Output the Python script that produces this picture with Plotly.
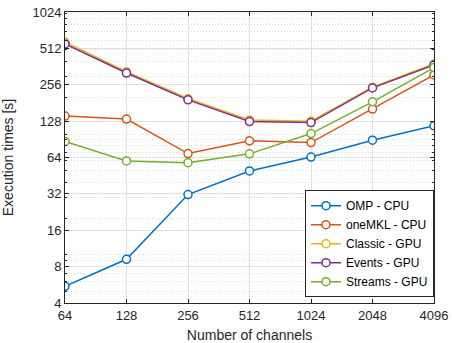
import math
import plotly.graph_objects as go

channels = [64, 128, 256, 512, 1024, 2048, 4096]
omp_cpu = [5.5, 9.2, 31.6, 49.5, 64.5, 89, 117]
onemkl_cpu = [141, 133, 69, 88, 85, 161, 309]
classic_gpu = [578, 328, 197, 131, 128, 244, 382]
events_gpu = [557, 320, 192, 127, 124.5, 241, 373]
streams_gpu = [87, 60, 58, 68.6, 101, 185, 355]

series_names = ["OMP - CPU", "oneMKL - CPU", "Classic - GPU", "Events - GPU", "Streams - GPU"]
series_values = [omp_cpu, onemkl_cpu, classic_gpu, events_gpu, streams_gpu]
colors = ["#0072BD", "#D95319", "#EDB120", "#7E2F8E", "#77AC30"]

y_ticks = [4, 8, 16, 32, 64, 128, 256, 512, 1024]
y_minor = [5, 6, 7, 9, 10, 20, 30, 40, 50, 60, 70, 80, 90, 100, 200, 300, 400, 500,
           600, 700, 800, 900, 1000]

FONT = "Liberation Sans, Arial"

fig = go.Figure()
for name, vals, c in zip(series_names, series_values, colors):
    fig.add_trace(go.Scatter(
        x=channels, y=vals, name=name, mode="lines+markers",
        line=dict(color=c, width=1.5),
        marker=dict(symbol="circle", size=8, color="white", line=dict(color=c, width=1.5)),
    ))

axis_common = dict(
    type="log", showline=True, linecolor="#262626", linewidth=1, mirror="ticks",
    ticks="inside", ticklen=4, tickcolor="#262626", automargin=False,
    showgrid=True, gridcolor="#E0E0E0", gridwidth=1, zeroline=False,
    tickfont=dict(family=FONT, size=13, color="#262626"),
)

fig.update_xaxes(
    **axis_common,
    range=[math.log10(64), math.log10(4096)],
    tickvals=channels, ticktext=[str(v) for v in channels],
    title=dict(text="Number of channels",
               font=dict(family=FONT, size=14, color="#262626")),
)
fig.update_yaxes(
    **axis_common,
    range=[math.log10(4), math.log10(1024)],
    tickvals=y_ticks, ticktext=[str(v) for v in y_ticks],
    minor=dict(tickvals=y_minor, ticks="inside", ticklen=2, tickcolor="#262626",
               showgrid=True, gridcolor="#D8D8D8", griddash="1px,2px", gridwidth=1),
    title=dict(text="Execution times [s]",
               font=dict(family=FONT, size=14, color="#262626")),
)

fig.update_layout(
    width=452, height=343,
    margin=dict(l=65, r=18, t=12, b=40),
    plot_bgcolor="white", paper_bgcolor="white",
    font=dict(family=FONT, color="#262626"),
    legend=dict(x=1, xanchor="right", y=0.02, yanchor="bottom",
                bgcolor="white", bordercolor="#262626", borderwidth=1,
                font=dict(family=FONT, size=12, color="#000000"),
                tracegroupgap=0, itemwidth=30),
    showlegend=True,
)

fig.write_html("out.html", config={"displayModeBar": False},
               post_script="document.body.style.margin='0';document.body.style.overflow='hidden';")
